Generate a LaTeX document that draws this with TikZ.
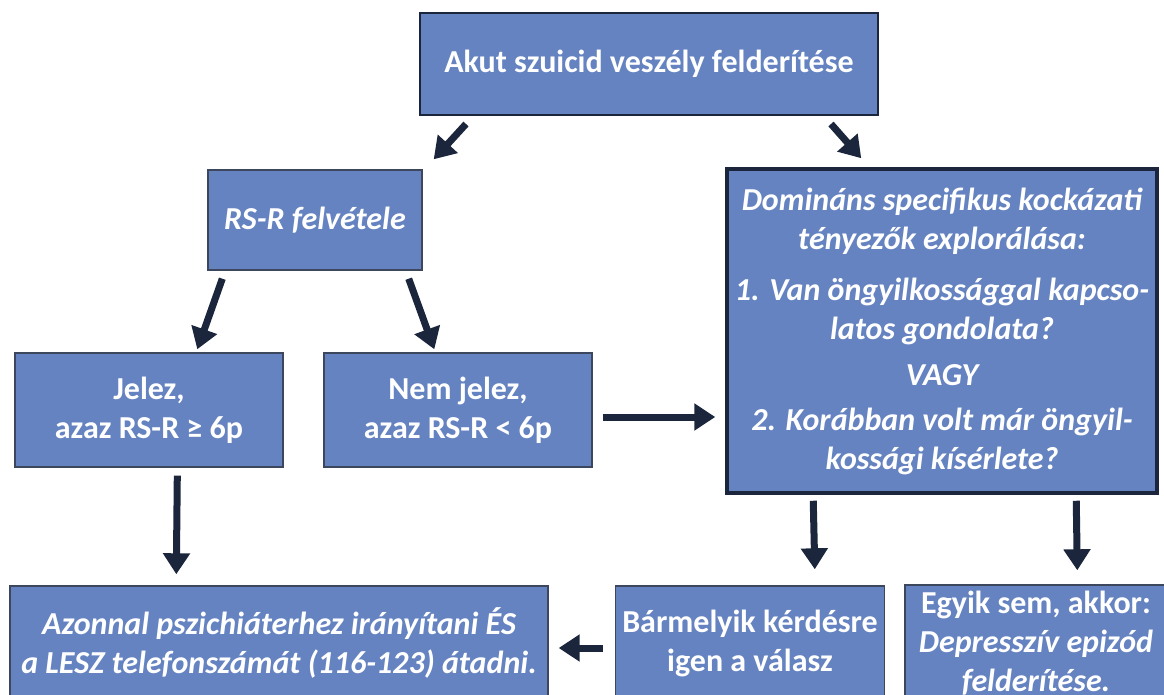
\documentclass[tikz,border=0pt]{standalone}
\usepackage{fontspec}
\setmainfont{Carlito}
\usetikzlibrary{arrows.meta,calc}

\definecolor{boxfill}{RGB}{101,131,193}
\definecolor{navy}{RGB}{27,38,60}
\definecolor{edgegray}{RGB}{60,70,92}

\tikzset{
  box/.style={rectangle, fill=boxfill, draw=edgegray, line width=1.4pt,
    text=white, font=\fontsize{32}{39}\selectfont\bfseries, align=center,
    inner sep=0pt},
  mainbox/.style={box, draw=navy, line width=2pt},
  keybox/.style={box, draw=navy, line width=3.5pt},
  arr/.style={draw=navy, line width=7pt, -{Triangle[length=21pt,width=26pt]}},
}

\begin{document}
\begin{tikzpicture}[x=1pt,y=-1pt]
  \useasboundingbox (0,0) rectangle (1164,695);
  \clip (0,0) rectangle (1164,695);

  % boxes
  \node[mainbox, minimum width=458pt, minimum height=102pt] (top) at (649,64)
    {Akut szuicid veszély felderítése};
  \node[box, minimum width=214pt, minimum height=100pt] (rsr) at (315,220)
    {\itshape RS-R felvétele};
  \node[keybox, minimum width=430pt, minimum height=324pt] (big) at (942,331)
    {\itshape Domináns specifikus kockázati\\\itshape tényezők explorálása:\\[12pt]
     \itshape 1. Van öngyilkossággal kapcso-\\\itshape latos gondolata?\\[7pt]
     \itshape VAGY\\[6pt]
     \itshape 2. Korábban volt már öngyil-\\\itshape kossági kísérlete?};
  \node[box, minimum width=268pt, minimum height=114pt] (jel) at (149,410)
    {Jelez,\\azaz RS-R ≥ 6p};
  \node[box, minimum width=268pt, minimum height=114pt] (nem) at (458,410)
    {Nem jelez,\\azaz RS-R < 6p};
  \node[box, minimum width=538pt, minimum height=114pt] (azo) at (279,643)
    {\itshape Azonnal pszichiáterhez irányítani ÉS\\\itshape a LESZ telefonszámát (116-123) átadni.};
  \node[box, minimum width=269pt, minimum height=114pt] (bar) at (750,643)
    {Bármelyik kérdésre\\igen a válasz};
  \node[box, minimum width=262pt, minimum height=116pt] (egy) at (1036,643)
    {Egyik sem, akkor:\\\itshape Depresszív epizód\\\itshape felderítése.};

  % connectors
  \draw[arr] ($(top.south west)+(47,8)$) -- ($(rsr.north east)+(11,-10)$);
  \draw[arr] ($(top.south east)+(-48,8)$) -- ($(big.north west)+(136,-9)$);
  \draw[arr] ($(rsr.south west)+(15,8)$) -- ($(jel.north west)+(183,-3)$);
  \draw[arr] ($(rsr.south east)+(-14,8)$) -- ($(nem.north west)+(111,-3)$);
  \draw[arr] ($(jel.south west)+(163,8)$) -- ($(azo.north west)+(167,-11)$);
  \draw[arr] ($(nem.east)+(10,7)$) -- ($(big.west|-nem.east)+(-10,7)$);
  \draw[arr] ($(big.south west)+(88,6)$) -- ($(bar.north west)+(200,-16)$);
  \draw[arr] ($(big.south west)+(351,6)$) -- ($(egy.north west)+(173,-14)$);
  \draw[arr] ($(bar.west)+(-12,5)$) -- ($(azo.east)+(10,5)$);
\end{tikzpicture}
\end{document}
